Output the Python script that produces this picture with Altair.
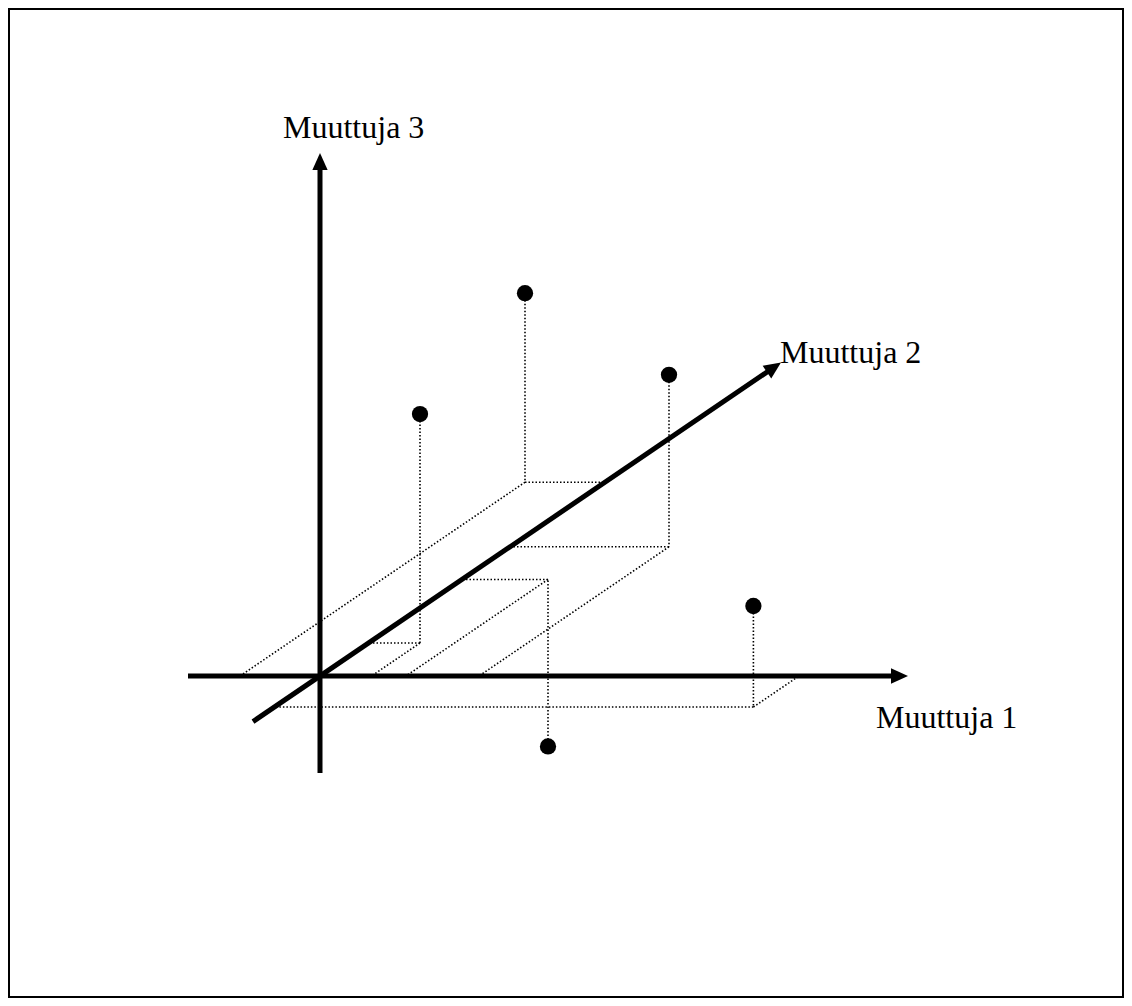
import math
import altair as alt
import pandas as pd

# ---- data: the five observations in (Muuttuja 1, Muuttuja 2, Muuttuja 3) units
var1 = [51.5, -80, 159, 86, 479]
var2 = [48.5, 285, 190, 142, -45.6]
var3 = [229, 189, 172, -167, 101]

# ---- the three axes (extent along each variable)
axis_names = ["Muuttuja 1", "Muuttuja 2", "Muuttuja 3"]
axis_min = [-132, -67, -97]
axis_max = [588, 461, 523]

SLOPE = 0.68  # oblique projection of the Muuttuja 2 direction


def proj(a, b, c):
    return a + b, c + SLOPE * b


# dotted construction lines
seg_rows = []
for a, b, c in zip(var1, var2, var3):
    for p, q in [((a, b, c), (a, b, 0)), ((a, b, 0), (0, b, 0)), ((a, b, 0), (a, 0, 0))]:
        x1, y1 = proj(*p)
        x2, y2 = proj(*q)
        seg_rows.append({"x": x1, "y": y1, "x2": x2, "y2": y2})
segs = pd.DataFrame(seg_rows)

# points
pts = pd.DataFrame([dict(zip(["x", "y"], proj(a, b, c))) for a, b, c in zip(var1, var2, var3)])

# axes
unit = [(1, 0, 0), (0, 1, 0), (0, 0, 1)]
ax_rows, head_rows, lab_rows = [], [], []
angles = [90, math.degrees(math.atan2(1, SLOPE)), 0]
shorten = [10, 10 / math.hypot(1, SLOPE), 10]
lab_off = [(-32, -42), (-1, 10), (-37, 25)]
for i in range(3):
    u = unit[i]
    lo = [k * axis_min[i] for k in u]
    hi = [k * (axis_max[i] - shorten[i]) for k in u]
    tip = [k * axis_max[i] for k in u]
    x1, y1 = proj(*lo)
    x2, y2 = proj(*hi)
    ax_rows.append({"x": x1, "y": y1, "x2": x2, "y2": y2})
    tx, ty = proj(*tip)
    head_rows.append({"x": tx, "y": ty, "angle": angles[i]})
    lab_rows.append({"x": tx + lab_off[i][0], "y": ty + lab_off[i][1], "label": axis_names[i]})
axes_df = pd.DataFrame(ax_rows)
heads = pd.DataFrame(head_rows)
labels = pd.DataFrame(lab_rows)

W, H = 1116, 990
OX, OY = 312, 322  # origin position inside the plot area (from left / bottom)
xs = alt.Scale(domain=[-OX, W - OX], range=[0, W], zero=False, nice=False)
ys = alt.Scale(domain=[-OY, H - OY], range=[H, 0], zero=False, nice=False)
X = lambda f="x": alt.X(f"{f}:Q", scale=xs, axis=None)
Y = lambda f="y": alt.Y(f"{f}:Q", scale=ys, axis=None)

frame = alt.Chart(pd.DataFrame({"a": [0]})).mark_rect(
    filled=False, stroke="black", strokeWidth=2
).encode(x=alt.value(1), x2=alt.value(W - 1), y=alt.value(1), y2=alt.value(H - 1))

dotted = alt.Chart(segs).mark_rule(
    color="black", strokeWidth=1.6, strokeDash=[1.5, 2.0]
).encode(x=X(), y=Y(), x2="x2:Q", y2="y2:Q")

axis_lines = alt.Chart(axes_df).mark_rule(
    color="black", strokeWidth=5, strokeCap="butt"
).encode(x=X(), y=Y(), x2="x2:Q", y2="y2:Q")

arrow = alt.Chart(heads).mark_point(
    shape="M0,0L-0.9,2L0.9,2Z", filled=True, color="black", opacity=1, size=289, strokeWidth=0
).encode(x=X(), y=Y(), angle=alt.Angle("angle:Q", scale=None))

dots = alt.Chart(pts).mark_circle(color="black", opacity=1, size=265).encode(x=X(), y=Y())

text = alt.Chart(labels).mark_text(
    font="Liberation Serif", fontSize=32, align="left", baseline="middle", color="black"
).encode(x=X(), y=Y(), text="label:N")

chart = alt.layer(frame, dotted, axis_lines, arrow, dots, text).properties(
    width=W, height=H, padding=0, autosize=alt.AutoSizeParams(type="none")
).configure_view(stroke=None)

chart.save("out.html", embed_options={"renderer": "svg", "actions": False})
